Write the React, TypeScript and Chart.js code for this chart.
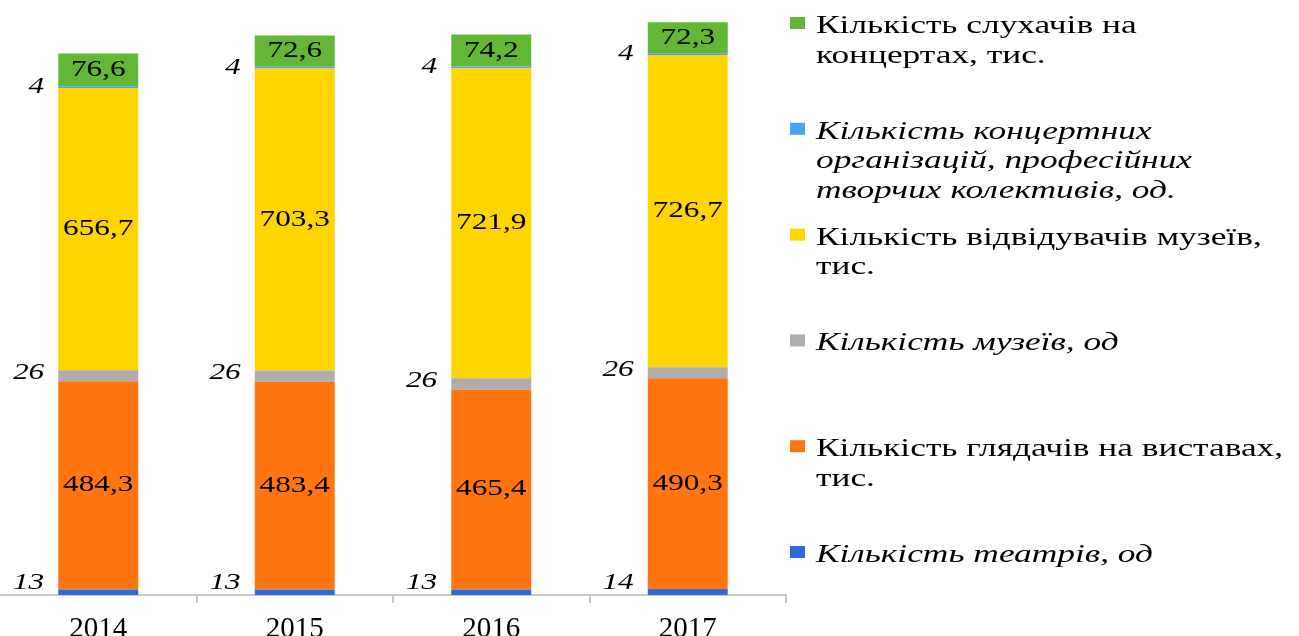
import React, { useEffect, useRef } from "react";
import { Chart, registerables } from "chart.js";

Chart.register(...registerables);

// ---- data ----
const years = ["2014", "2015", "2016", "2017"];
const theatres = [13, 13, 13, 14];
const playViewers = [484.3, 483.4, 465.4, 490.3];
const museums = [26, 26, 26, 26];
const museumVisitors = [656.7, 703.3, 721.9, 726.7];
const concertOrgs = [4, 4, 4, 4];
const concertListeners = [76.6, 72.6, 74.2, 72.3];

const seriesNames = [
  "Кількість театрів, од",
  "Кількість глядачів на виставах, тис.",
  "Кількість музеїв, од",
  "Кількість відвідувачів музеїв, тис.",
  "Кількість концертних організацій, професійних творчих колективів, од.",
  "Кількість слухачів на концертах, тис.",
];
const legendLines = [
  ["Кількість театрів, од"],
  ["Кількість глядачів на виставах,", "тис."],
  ["Кількість музеїв, од"],
  ["Кількість відвідувачів музеїв,", "тис."],
  ["Кількість концертних", "організацій, професійних", "творчих колективів, од."],
  ["Кількість слухачів на", "концертах, тис."],
];

// ---- styles ----
const colors = ["#2D6BDB", "#FF7611", "#ADADAD", "#FFD500", "#4DA3F0", "#62B734"];
const italicSeries = [true, false, true, false, true, false];
const sideLabelShift = [-9, 0, -3, 0, 0, 0];
const SX = 1.36;
const FONT = '"Liberation Serif", "Times New Roman", serif';

function drawStretched(
  ctx: CanvasRenderingContext2D,
  text: string,
  x: number,
  y: number,
  align: "left" | "center" | "right",
  font: string,
  sx: number,
  baseline: CanvasTextBaseline = "middle"
) {
  ctx.save();
  ctx.font = font;
  ctx.fillStyle = "#000";
  ctx.textBaseline = baseline;
  ctx.textAlign = "left";
  const w = ctx.measureText(text).width * sx;
  const left = align === "center" ? x - w / 2 : align === "right" ? x - w : x;
  ctx.translate(left, y);
  ctx.scale(sx, 1);
  ctx.fillText(text, 0, 0);
  ctx.restore();
}

const segLabelPlugin = {
  id: "segLabels",
  afterDatasetsDraw(chart: any) {
    const ctx = chart.ctx as CanvasRenderingContext2D;
    chart.data.datasets.forEach((ds: any, di: number) => {
      const meta = chart.getDatasetMeta(di);
      meta.data.forEach((bar: any, i: number) => {
        const { x, y, base, width } = bar.getProps(["x", "y", "base", "width"], true);
        const v = ds.data[i] as number;
        const cy = (y + base) / 2;
        if (italicSeries[di]) {
          drawStretched(ctx, String(v), x - width / 2 - 14, cy + sideLabelShift[di], "right", `italic 23px ${FONT}`, SX);
        } else {
          drawStretched(ctx, v.toFixed(1).replace(".", ","), x, cy, "center", `23px ${FONT}`, SX);
        }
      });
    });
  },
};

const sideLegendPlugin = {
  id: "sideLegend",
  afterDraw(chart: any) {
    const ctx = chart.ctx as CanvasRenderingContext2D;
    const left = chart.chartArea.right + 4;
    const n = chart.data.datasets.length;
    for (let k = 0; k < n; k++) {
      const di = n - 1 - k;
      const baseY = 33 + k * 105.8;
      ctx.save();
      ctx.fillStyle = chart.data.datasets[di].backgroundColor;
      ctx.fillRect(left, baseY - 16, 15, 12);
      ctx.restore();
      legendLines[di].forEach((line, li) => {
        drawStretched(
          ctx,
          line,
          left + 26,
          baseY + li * 29.5,
          "left",
          `${italicSeries[di] ? "italic " : ""}26px ${FONT}`,
          SX,
          "alphabetic"
        );
      });
    }
  },
};

export default function App() {
  const ref = useRef<HTMLCanvasElement | null>(null);

  useEffect(() => {
    if (!ref.current) return;
    const series = [theatres, playViewers, museums, museumVisitors, concertOrgs, concertListeners];
    const chart = new Chart(ref.current, {
      type: "bar",
      data: {
        labels: years,
        datasets: series.map((d, i) => ({
          label: seriesNames[i],
          data: d,
          backgroundColor: colors[i],
          borderWidth: 0,
          barPercentage: 0.407,
          categoryPercentage: 1,
        })),
      },
      options: {
        responsive: false,
        animation: false,
        layout: { padding: { left: 0, right: 513, top: 0, bottom: 0 } },
        plugins: {
          legend: { display: false },
          tooltip: { enabled: false },
          title: { display: false },
        },
        scales: {
          x: {
            stacked: true,
            offset: true,
            grid: {
              display: true,
              drawOnChartArea: false,
              drawTicks: true,
              tickLength: 8,
              color: (c: any) => (c.index === 0 ? "rgba(0,0,0,0)" : "#C8C8C8"),
              lineWidth: 2,
              offset: true,
            },
            border: { display: true, color: "#C8C8C8", width: 2 },
            ticks: {
              color: "#000",
              font: { family: FONT, size: 29, lineHeight: 1.2 },
              padding: 9,
              maxRotation: 0,
            },
            afterFit: (s: any) => {
              s.height = 41;
            },
          },
          y: {
            stacked: true,
            display: false,
            min: 0,
            max: 1385,
          },
        },
      },
      plugins: [segLabelPlugin, sideLegendPlugin],
    });
    return () => chart.destroy();
  }, []);

  return (
    <div style={{ position: "fixed", left: 0, top: 0, width: 1299, height: 636, background: "#fff" }}>
      <canvas ref={ref} width={1299} height={636} style={{ display: "block", width: 1299, height: 636 }} />
    </div>
  );
}
